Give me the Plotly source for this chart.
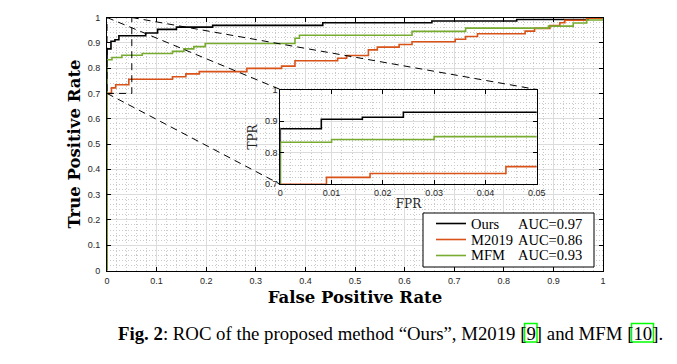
import plotly.graph_objects as go

# ---------------- data ----------------
ours_fpr = [0, 0, 0.008, 0.016, 0.024, 0.078, 0.102, 0.140, 0.213, 0.435, 0.655, 0.826, 0.970, 1.0]
ours_tpr = [0, 0.876, 0.906, 0.912, 0.928, 0.939, 0.953, 0.962, 0.969, 0.979, 0.986, 0.992, 1.0, 1.0]

m2019_fpr = [0, 0, 0.009, 0.0175, 0.044, 0.132, 0.159, 0.186, 0.282, 0.352, 0.379, 0.465, 0.483,
             0.527, 0.545, 0.589, 0.615, 0.702, 0.723, 0.747, 0.843, 0.862, 0.893, 0.913, 0.923,
             0.967, 1.0]
m2019_tpr = [0, 0.700, 0.722, 0.734, 0.756, 0.766, 0.777, 0.786, 0.799, 0.808, 0.829, 0.839, 0.850,
             0.872, 0.883, 0.893, 0.904, 0.914, 0.925, 0.936, 0.946, 0.957, 0.968, 0.979, 0.989,
             0.997, 1.0]

mfm_fpr = [0, 0, 0.010, 0.030, 0.071, 0.132, 0.155, 0.175, 0.198, 0.379, 0.388, 0.615, 0.723,
           0.890, 0.940, 0.967, 1.0]
mfm_tpr = [0, 0.833, 0.842, 0.851, 0.858, 0.866, 0.876, 0.885, 0.897, 0.918, 0.930, 0.945, 0.958,
           0.966, 0.978, 0.990, 1.0]

series_names = ["Ours", "M2019", "MFM"]
auc_values = [0.97, 0.86, 0.93]

main_ticks = [0, 0.1, 0.2, 0.3, 0.4, 0.5, 0.6, 0.7, 0.8, 0.9, 1]
main_tick_text = ["0", "0.1", "0.2", "0.3", "0.4", "0.5", "0.6", "0.7", "0.8", "0.9", "1"]
inset_xticks = [0, 0.01, 0.02, 0.03, 0.04, 0.05]
inset_xtick_text = ["0", "0.01", "0.02", "0.03", "0.04", "0.05"]
inset_yticks = [0.7, 0.8, 0.9, 1.0]
inset_ytick_text = ["0.7", "0.8", "0.9", "1"]
zoom_x = [0, 0.05]
zoom_y = [0.7, 1.0]

caption = ("<b>Fig. 2</b>: ROC of the proposed method \u201cOurs\u201d, M2019 [9] and MFM [10].")

# ---------------- styling ----------------
W, H = 677, 364
colors = ["#000000", "#D95319", "#77AC30"]
main_xdom = [107 / W, 603 / W]
main_ydom = [(H - 270.5) / H, (H - 17.5) / H]
ins_xdom = [280.3 / W, 536.7 / W]
ins_ydom = [(H - 184.3) / H, (H - 89.5) / H]

tick_font = dict(family="Liberation Sans, Arial", size=9, color="#262626")
grid_major = "#dcdcdc"
grid_minor = "#cacaca"
minor_dash = "1px,2px"

fig = go.Figure()
data = [(ours_fpr, ours_tpr), (m2019_fpr, m2019_tpr), (mfm_fpr, mfm_tpr)]
for i, (fx, ty) in enumerate(data):
    fig.add_trace(go.Scatter(
        x=fx, y=ty, mode="lines", line=dict(color=colors[i], width=1.6, shape="hv"),
        name=f"{series_names[i]} AUC={auc_values[i]:.2f}", showlegend=False,
        xaxis="x", yaxis="y", hoverinfo="skip"))
for i, (fx, ty) in enumerate(data):
    fig.add_trace(go.Scatter(
        x=fx, y=ty, mode="lines", line=dict(color=colors[i], width=1.6, shape="hv"),
        showlegend=False, xaxis="x2", yaxis="y2", hoverinfo="skip"))

common = dict(showline=True, linecolor="#000000", linewidth=1, mirror="allticks",
              ticks="inside", ticklen=4, tickcolor="#000000", tickfont=tick_font,
              showgrid=True, gridcolor=grid_major, gridwidth=1, zeroline=False,
              automargin=False)


def minor(dt):
    return dict(dtick=dt, showgrid=True, gridcolor=grid_minor, griddash=minor_dash, ticks="")


fig.update_layout(
    width=W, height=H, margin=dict(l=0, r=0, t=0, b=0, autoexpand=False),
    paper_bgcolor="white", plot_bgcolor="white", showlegend=False,
    xaxis=dict(domain=main_xdom, range=[0, 1], tickvals=main_ticks, ticktext=main_tick_text,
               minor=minor(0.02),
               title=dict(text="<b>False Positive Rate</b>", standoff=6,
                          font=dict(family="DejaVu Serif", size=16.5, color="#000000")),
               anchor="y", ticklabelstandoff=2, **common),
    yaxis=dict(domain=main_ydom, range=[0, 1], tickvals=main_ticks, ticktext=main_tick_text,
               minor=minor(0.02),
               title=dict(text="<b>True Positive Rate</b>", standoff=2,
                          font=dict(family="DejaVu Serif", size=16.5, color="#000000")),
               anchor="x", ticklabelstandoff=4, **common),
    xaxis2=dict(domain=ins_xdom, range=zoom_x, tickvals=inset_xticks, ticktext=inset_xtick_text,
                minor=minor(0.002),
                title=dict(text="FPR", standoff=2,
                           font=dict(family="DejaVu Serif", size=12, color="#262626")),
                anchor="y2", **common),
    yaxis2=dict(domain=ins_ydom, range=zoom_y, tickvals=inset_yticks, ticktext=inset_ytick_text,
                minor=minor(0.02),
                title=dict(text="TPR", standoff=4,
                           font=dict(family="DejaVu Serif", size=12, color="#262626")),
                anchor="x2", **common),
)


def to_paper(xv, yv):
    px = main_xdom[0] + (xv - 0) / (1 - 0) * (main_xdom[1] - main_xdom[0])
    py = main_ydom[0] + (yv - 0) / (1 - 0) * (main_ydom[1] - main_ydom[0])
    return px, py


dash = "7px,5px"
shapes = [dict(type="rect", xref="x", yref="y", x0=zoom_x[0], x1=zoom_x[1], y0=zoom_y[0], y1=zoom_y[1],
               line=dict(color="#000000", width=1, dash=dash), layer="above")]
links = [((zoom_x[0], zoom_y[1]), (ins_xdom[0], ins_ydom[1])),
         ((zoom_x[1], zoom_y[1]), (ins_xdom[1], ins_ydom[1])),
         ((zoom_x[0], zoom_y[0]), (ins_xdom[0], ins_ydom[0]))]
for (mx, my), (ix, iy) in links:
    p0 = to_paper(mx, my)
    shapes.append(dict(type="line", xref="paper", yref="paper", x0=p0[0], y0=p0[1], x1=ix, y1=iy,
                       line=dict(color="#000000", width=1, dash=dash), layer="above"))

# ---- legend box (drawn like the MATLAB legend) ----
leg_box = (423, 213, 594, 267)
shapes.append(dict(type="rect", xref="paper", yref="paper",
                   x0=leg_box[0] / W, x1=leg_box[2] / W,
                   y0=(H - leg_box[3]) / H, y1=(H - leg_box[1]) / H,
                   fillcolor="white", line=dict(color="#000000", width=1), layer="above"))
row_y = [223.5, 239.5, 255.5]
for i in range(len(series_names)):
    yy = (H - row_y[i]) / H
    shapes.append(dict(type="line", xref="paper", yref="paper", x0=436 / W, x1=466 / W, y0=yy, y1=yy,
                       line=dict(color=colors[i], width=1.6), layer="above"))
    fig.add_annotation(text=series_names[i], xref="paper", yref="paper", x=469 / W, y=yy,
                       xanchor="left", yanchor="middle", showarrow=False,
                       font=dict(family="Liberation Serif", size=14.5, color="#000000"))
    fig.add_annotation(text=f"AUC={auc_values[i]:.2f}", xref="paper", yref="paper", x=516 / W, y=yy,
                       xanchor="left", yanchor="middle", showarrow=False,
                       font=dict(family="Liberation Serif", size=14.5, color="#000000"))

# hyperref link boxes in caption (around the citation numbers)
for x0, x1 in [(524.5, 537.0), (631.5, 653.5)]:
    shapes.append(dict(type="rect", xref="paper", yref="paper", x0=x0 / W, x1=x1 / W,
                       y0=(H - 342) / H, y1=(H - 323.5) / H, line=dict(color="#00ff00", width=1.5)))
fig.update_layout(shapes=shapes)

fig.add_annotation(text=caption, xref="paper", yref="paper", x=390 / W, y=(H - 333) / H,
                   showarrow=False, font=dict(family="Liberation Serif", size=18.8, color="#000000"),
                   xanchor="center", yanchor="middle")

fig.write_html("out.html", config={"displayModeBar": False},
               post_script="document.body.style.margin='0px';")
